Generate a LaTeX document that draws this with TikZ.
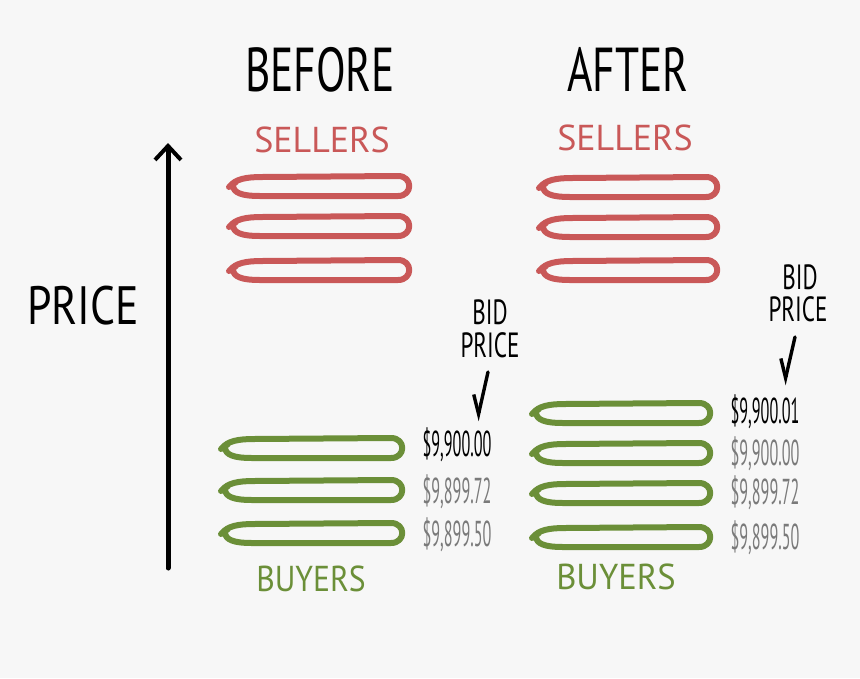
\documentclass[tikz,border=0pt]{standalone}
\usepackage{fontspec}
\setmainfont{PT Sans}
\usetikzlibrary{arrows.meta}
\definecolor{bg}{HTML}{F7F7F7}
\definecolor{sell}{HTML}{C95858}
\definecolor{buy}{HTML}{6B8F38}
\definecolor{dim}{HTML}{7A7A7A}
\newcommand\hx[2]{\scalebox{#1}[1]{#2}}
\begin{document}
\begin{tikzpicture}[x=1pt,y=-1pt,
  every node/.style={inner sep=0pt},
  title/.style={font=\fontsize{62}{62}\selectfont},
  sub/.style={font=\fontsize{36}{36}\selectfont},
  bidtxt/.style={font=\fontsize{35}{35}\selectfont},
  price/.style={font=\fontsize{36}{36}\selectfont},
  hand/.style={line width=6pt, line cap=round, line join=round},
  bidarrow/.style={line width=3.4pt, line cap=round, -{Straight Barb[harpoon,swap,length=18pt,width=18pt,line width=3.4pt]}},
  loop/.pic={
    \draw[hand, pic actions]
      (-1,1) -- (6,-4)
      (0,0) .. controls (6,-7) and (16,-9) .. (32,-9)
      -- (\pgfkeysvalueof{/tikz/looplen}-14,-10)
      .. controls (\pgfkeysvalueof{/tikz/looplen}+1,-10) and (\pgfkeysvalueof{/tikz/looplen}+1,10) .. (\pgfkeysvalueof{/tikz/looplen}-14,10)
      -- (30,10) .. controls (12,10) and (3,7) .. (3,-1);
  },
  looplen/.initial=180
]
\useasboundingbox[fill=bg] (0,0) rectangle (860,678);

% titles
\node[title] (before) at (320,70) {\hx{0.7}{BEFORE}};
\node[title] (after) at (628,69) {\hx{0.7}{AFTER}};
\node[font=\fontsize{54}{54}\selectfont] (price) at (83,306) {\hx{0.81}{PRICE}};

% sellers
\node[sub, sell] (sellB) at (322,140) {\hx{1.0}{SELLERS}};
\node[sub, sell] (sellA) at (625,138) {\hx{1.0}{SELLERS}};
\foreach \y in {186,226,270} \pic[sell, looplen=182] at (230,\y) {loop};
\foreach \y in {187,227,270} \pic[sell, looplen=180] at (540,\y) {loop};

% buyers
\node[sub, buy] (buyB) at (311,579) {\hx{0.88}{BUYERS}};
\node[sub, buy] (buyA) at (616,577) {\hx{0.96}{BUYERS}};
\foreach \y in {448,490,533} \pic[buy, looplen=183] at (222,\y) {loop};
\foreach \y in {413,453,493,537} \pic[buy, looplen=180] at (533,\y) {loop};

% price arrow
\coordinate (pbot) at (168,568);
\coordinate (ptop) at (168,143);
\draw[line width=5pt, line cap=round, -{Straight Barb[length=14pt,width=26pt,line width=4pt]}] (pbot) -- (ptop);

% prices before
\node[price] (pB1) at (457,445) {\hx{0.45}{\$9,900.00}};
\node[price, dim] (pB2) at (457,492) {\hx{0.45}{\$9,899.72}};
\node[price, dim] (pB3) at (457,535) {\hx{0.45}{\$9,899.50}};
% prices after
\node[price] (pA1) at (765,412) {\hx{0.45}{\$9,900.01}};
\node[price, dim] (pA2) at (765,454) {\hx{0.45}{\$9,900.00}};
\node[price, dim] (pA3) at (765,493) {\hx{0.45}{\$9,899.72}};
\node[price, dim] (pA4) at (765,538) {\hx{0.45}{\$9,899.50}};

% bid price labels
\node[bidtxt] (bidB1) at (490,312) {\hx{0.66}{BID}};
\node[bidtxt] (bidB2) at (490,345) {\hx{0.66}{PRICE}};
\node[bidtxt] (bidA1) at (800,277) {\hx{0.66}{BID}};
\node[bidtxt] (bidA2) at (798,309) {\hx{0.66}{PRICE}};
\coordinate (bBs) at (488,372);
\coordinate (bBe) at (477,421);
\coordinate (bAs) at (795,337);
\coordinate (bAe) at (784,385);
\draw[bidarrow] (bBs) -- (bBe);
\draw[bidarrow] (bAs) -- (bAe);
\end{tikzpicture}
\end{document}
